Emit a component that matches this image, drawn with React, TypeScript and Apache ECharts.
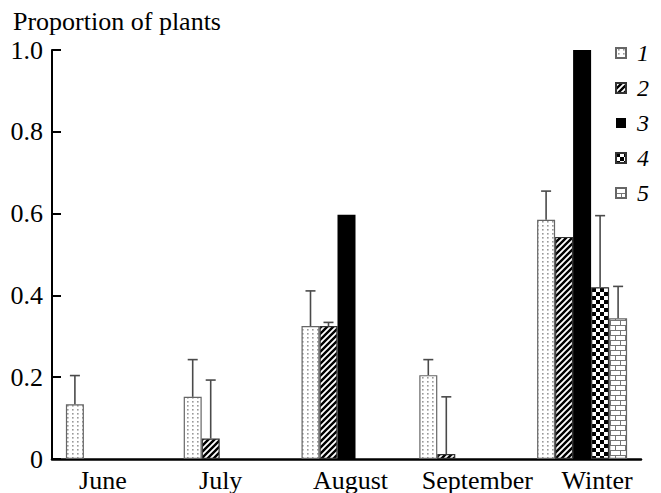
import React, { useEffect, useRef } from "react";
import * as echarts from "echarts";

const categories = ["June", "July", "August", "September", "Winter"];
const seriesNames = ["1", "2", "3", "4", "5"];

const values1 = [0.134, 0.152, 0.325, 0.205, 0.585];
const values2 = [null, 0.05, 0.325, 0.012, 0.543];
const values3 = [null, null, 0.597, null, 1.0];
const values4 = [null, null, null, null, 0.42];
const values5 = [null, null, null, null, 0.344];

const errTop1 = [0.204, 0.243, 0.411, 0.243, 0.655];
const errTop2 = [null, 0.193, 0.334, 0.152, null];
const errTop3 = [null, null, null, null, null];
const errTop4 = [null, null, null, null, 0.595];
const errTop5 = [null, null, null, null, 0.422];

const yTicks = [0, 0.2, 0.4, 0.6, 0.8, 1.0];

const allValues = [values1, values2, values3, values4, values5];
const allErr = [errTop1, errTop2, errTop3, errTop4, errTop5];

const FONT = "Liberation Serif";
const BAR_W = 18;
const CAP = 10;
const labelShift = [-8, -8, 4, 13, 15];

function makePattern(kind: number) {
  const c = document.createElement("canvas");
  let w = 6, h = 6;
  if (kind === 0) { w = 5; h = 4; }
  if (kind === 1) { w = 6; h = 6; }
  if (kind === 3) { w = 8; h = 8; }
  if (kind === 4) { w = 10; h = 10; }
  c.width = w; c.height = h;
  const ctx = c.getContext("2d")!;
  ctx.fillStyle = "#fff";
  ctx.fillRect(0, 0, w, h);
  if (kind === 0) {
    ctx.fillStyle = "#9a9a9a";
    ctx.fillRect(2, 1, 1.6, 1.6);
  } else if (kind === 1) {
    ctx.strokeStyle = "#000";
    ctx.lineWidth = 2.4;
    ctx.beginPath();
    ctx.moveTo(-1, h + 1); ctx.lineTo(w + 1, -1);
    ctx.moveTo(-1 - w, h + 1); ctx.lineTo(1, -1);
    ctx.moveTo(w - 1, h + 1); ctx.lineTo(2 * w + 1, -1);
    ctx.stroke();
  } else if (kind === 3) {
    ctx.fillStyle = "#000";
    ctx.fillRect(0, 0, 4, 4);
    ctx.fillRect(4, 4, 4, 4);
  } else if (kind === 4) {
    ctx.fillStyle = "#777";
    ctx.fillRect(0, 0, w, 1);
    ctx.fillRect(0, 5, w, 1);
    ctx.fillRect(0, 0, 1, 5);
    ctx.fillRect(5, 5, 1, 5);
  }
  return { image: c, repeat: "repeat", imageWidth: w, imageHeight: h } as any;
}

export default function App() {
  const ref = useRef<HTMLDivElement>(null);
  useEffect(() => {
    const chart = echarts.init(ref.current!, undefined, { renderer: "svg" });
    const fills = [makePattern(0), makePattern(1), "#000", makePattern(3), makePattern(4)];
    const borders = ["#666", "#333", "#000", "#333", "#666"];

    const barSeries = allValues.map((vals, k) => ({
      name: seriesNames[k],
      type: "bar",
      data: vals.map((v) => (v == null ? "-" : v)),
      barWidth: BAR_W,
      barGap: "0%",
      itemStyle: { color: fills[k], borderColor: borders[k], borderWidth: k === 2 ? 0 : 1.2 },
      z: 2,
    }));

    const errData: any[] = [];
    allErr.forEach((arr, k) => {
      arr.forEach((hi, i) => {
        const lo = allValues[k][i];
        if (hi != null && lo != null) errData.push([i, lo, hi, k]);
      });
    });

    const option: any = {
      animation: false,
      textStyle: { fontFamily: FONT },
      grid: { left: 52, right: 20, top: 50, bottom: 34, containLabel: false },
      graphic: [
        {
          type: "text",
          left: 13,
          top: 8,
          style: { text: "Proportion of plants", fontFamily: FONT, fontSize: 26, fill: "#000" },
        },
      ],
      legend: {
        orient: "vertical",
        left: 610,
        top: 36,
        itemWidth: 10,
        itemHeight: 10,
        itemGap: 11,
        icon: "rect",
        data: seriesNames,
        textStyle: {
          fontFamily: FONT,
          fontStyle: "italic",
          fontSize: 24,
          lineHeight: 23,
          color: "#000",
          padding: [0, 0, 0, 6],
        },
      },
      xAxis: {
        type: "category",
        data: categories,
        axisLine: { lineStyle: { color: "#000", width: 2.5 } },
        axisTick: { show: false },
        axisLabel: {
          interval: 0,
          hideOverlap: false,
          margin: 8,
          color: "#000",
          fontFamily: FONT,
          fontSize: 26,
          formatter: (v: string) => {
            const i = categories.indexOf(v);
            return `{c${i}|${v}}`;
          },
          rich: Object.fromEntries(
            categories.map((_, i) => {
              const d = labelShift[i];
              return [
                `c${i}`,
                {
                  fontFamily: FONT,
                  fontSize: 26,
                  color: "#000",
                  padding: d >= 0 ? [0, 0, 0, 2 * d] : [0, -2 * d, 0, 0],
                },
              ];
            })
          ),
        },
      },
      yAxis: {
        type: "value",
        min: 0,
        max: 1,
        interval: 0.2,
        splitLine: { show: false },
        axisLine: { show: true, lineStyle: { color: "#000", width: 2 } },
        axisTick: { show: true, inside: true, length: 9, lineStyle: { color: "#000", width: 2 } },
        axisLabel: {
          margin: 9,
          color: "#000",
          fontFamily: FONT,
          fontSize: 26,
          formatter: (v: number) => {
            const t = yTicks.find((y) => Math.abs(y - v) < 1e-9);
            const val = t == null ? v : t;
            return val === 0 ? "0" : val.toFixed(1);
          },
        },
      },
      series: [
        ...barSeries,
        {
          type: "custom",
          name: "err",
          z: 5,
          data: errData,
          renderItem: (params: any, api: any) => {
            const cat = api.value(0);
            const lo = api.value(1);
            const hi = api.value(2);
            const k = api.value(3);
            const p0 = api.coord([cat, lo]);
            const p1 = api.coord([cat, hi]);
            const x = p0[0] + (k - 2) * BAR_W;
            const st = { stroke: "#4a4a4a", lineWidth: 1.6 };
            return {
              type: "group",
              children: [
                { type: "line", shape: { x1: x, y1: p0[1], x2: x, y2: p1[1] }, style: st },
                { type: "line", shape: { x1: x - CAP / 2, y1: p1[1], x2: x + CAP / 2, y2: p1[1] }, style: st },
              ],
            };
          },
        },
      ],
    };
    chart.setOption(option);
    return () => chart.dispose();
  }, []);
  return <div ref={ref} style={{ width: 661, height: 493, position: "absolute", left: 0, top: 0 }} />;
}
